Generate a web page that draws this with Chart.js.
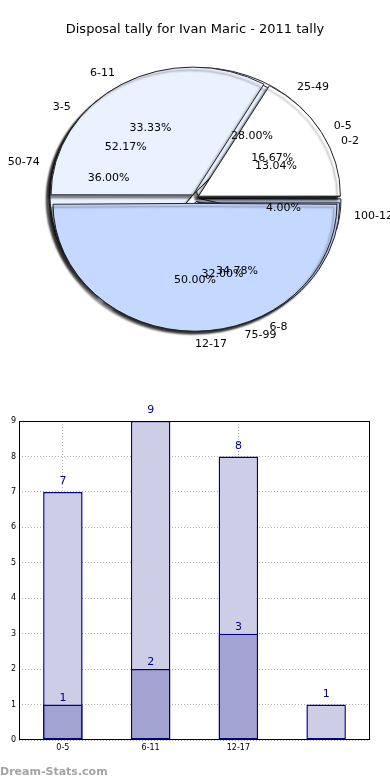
<!DOCTYPE html>
<html>
<head>
<meta charset="utf-8">
<script src="https://cdn.jsdelivr.net/npm/chart.js@4/dist/chart.umd.min.js"></script>
<style>
  body { margin: 0; background: #fff; }
  #pieBox { position: absolute; left: 0; top: 0; width: 390px; height: 390px; }
  #barBox { position: absolute; left: 0; top: 400px; width: 390px; height: 380px; }
</style>
</head>
<body>
<div id="pieBox"><canvas id="pieChart"></canvas></div>
<div id="barBox"><canvas id="barChart"></canvas></div>
<script>
const titleText = 'Disposal tally for Ivan Maric - 2011 tally';

// three pies drawn on top of each other (first one ends up on top)
const pieAgeLabels = ['0-5', '6-11', '12-17'];
const pieAgeValues = [1, 2, 3];
const pieSmallLabels = ['0-2', '3-5', '6-8'];
const pieSmallValues = [3, 12, 8];
const pieBigLabels = ['25-49', '50-74', '75-99', '100-124'];
const pieBigValues = [7, 9, 8, 1];

// bar chart
const barCategories = ['0-5', '6-11', '12-17', ''];
const barTotals = [7, 9, 8, 1];
const barPart = [1, 2, 3, 0];
const yTicks = [0, 1, 2, 3, 4, 5, 6, 7, 8, 9];

const FONT = '"DejaVu Sans", sans-serif';
const R = 142;      // pie radius
const SY = 0.9;     // vertical squash of the pie
const pieColors = ['#ffffff', '#eaf1ff', '#c5d8ff', '#c5d8ff'];

const pieLabelSets = [pieAgeLabels, pieSmallLabels, pieBigLabels];
const pieValueSets = [pieAgeValues, pieSmallValues, pieBigValues];

// chart.js arc offset moves the slice by offset/4
const explode = [
  [16, 16, 24],
  [12, 16, 24],
  [16, 16, 16, 16],
];

const squash = {
  id: 'squash',
  afterDatasetsUpdate(chart) {
    // every dataset is a full pie, not a ring; exploded slices keep their size
    chart.data.datasets.forEach((ds, d) => {
      chart.getDatasetMeta(d).data.forEach(arc => {
        const fix = 1 - Math.sin(Math.min(Math.PI, arc.circumference));
        arc.innerRadius = 0;
        arc.outerRadius = R - (arc.options.offset / 4) * fix;
      });
    });
  },
  beforeDatasetsDraw(chart) {
    const { ctx } = chart;
    const a = chart.getDatasetMeta(0).data[0];
    ctx.save();
    ctx.translate(a.x, a.y);
    ctx.scale(1, -SY);
    ctx.translate(-a.x, -a.y);
  },
  afterDatasetsDraw(chart) {
    chart.ctx.restore();
  },
  beforeDatasetDraw(chart) {
    const { ctx } = chart;
    ctx.save();
    ctx.shadowColor = 'rgba(0,0,0,0.45)';
    ctx.shadowOffsetX = -3;
    ctx.shadowOffsetY = 3;
    ctx.shadowBlur = 2;
  },
  afterDatasetDraw(chart) {
    chart.ctx.restore();
  },
  afterDraw(chart) {
    const { ctx } = chart;
    ctx.save();
    ctx.font = '11px ' + FONT;
    ctx.fillStyle = '#000';
    ctx.textBaseline = 'middle';
    pieValueSets.forEach((vals, d) => {
      const total = vals.reduce((s, v) => s + v, 0);
      chart.getDatasetMeta(d).data.forEach((arc, i) => {
        const mid = (arc.startAngle + arc.endAngle) / 2;
        const shift = arc.options.offset / 4;
        const c = Math.cos(mid), s = Math.sin(mid);
        const rp = 0.6 * R + shift;
        ctx.textAlign = 'center';
        ctx.fillText((vals[i] / total * 100).toFixed(2) + '%', arc.x + rp * c, arc.y - SY * rp * s);
        const rl = 1.1 * R + shift;
        ctx.textAlign = c > -1e-6 ? 'left' : 'right';
        ctx.fillText(pieLabelSets[d][i], arc.x + rl * c, arc.y - SY * rl * s);
      });
    });
    ctx.restore();
  },
};

new Chart(document.getElementById('pieChart'), {
  type: 'pie',
  data: {
    labels: pieBigLabels,
    datasets: pieValueSets.map((vals, d) => ({
      data: vals,
      backgroundColor: pieColors,
      borderColor: '#1a1a1a',
      borderWidth: 1,
      offset: explode[d],
      clip: false,
    })),
  },
  options: {
    responsive: true,
    maintainAspectRatio: false,
    animation: false,
    events: [],
    rotation: 90,
    radius: R,
    layout: { padding: { top: 0, bottom: 31.6 } },
    plugins: {
      legend: { display: false },
      tooltip: { enabled: false },
      title: {
        display: true,
        text: titleText,
        color: '#000',
        font: { family: FONT, size: 13, weight: 'normal' },
        padding: { top: 22, bottom: 0 },
      },
    },
  },
  plugins: [squash],
});

const frame = {
  id: 'frame',
  afterDatasetsDraw(chart) {
    const { ctx, chartArea: { left, top, right, bottom } } = chart;
    ctx.save();
    ctx.strokeStyle = '#000';
    ctx.lineWidth = 1;
    ctx.strokeRect(left + 0.5, top + 0.5, right - left - 1, bottom - top - 1);
    ctx.restore();
  },
};

const barValues = {
  id: 'barValues',
  afterDatasetsDraw(chart) {
    const { ctx } = chart;
    const gaps = [1, 5];
    ctx.save();
    ctx.font = '11px ' + FONT;
    ctx.fillStyle = '#000080';
    ctx.textAlign = 'center';
    ctx.textBaseline = 'bottom';
    chart.data.datasets.forEach((ds, d) => {
      chart.getDatasetMeta(d).data.forEach((bar, i) => {
        if (!ds.data[i]) return;
        ctx.fillText(String(ds.data[i]), bar.x, bar.y - gaps[d]);
      });
    });
    ctx.restore();
  },
  afterDraw(chart) {
    const { ctx } = chart;
    ctx.save();
    ctx.font = 'bold 11px ' + FONT;
    ctx.fillStyle = '#a3a3a3';
    ctx.textAlign = 'left';
    ctx.textBaseline = 'alphabetic';
    ctx.fillText('Dream-Stats.com', 0, 375);
    ctx.restore();
  },
};

new Chart(document.getElementById('barChart'), {
  type: 'bar',
  data: {
    labels: barCategories,
    datasets: [
      {
        data: barPart,
        backgroundColor: '#a3a3d1',
        borderColor: '#000080',
        borderWidth: 1.5,
        borderSkipped: false,
        grouped: false,
        barPercentage: 0.45,
        categoryPercentage: 1,
      },
      {
        data: barTotals,
        backgroundColor: '#cdcde6',
        borderColor: '#000080',
        borderWidth: 1.5,
        borderSkipped: false,
        grouped: false,
        barPercentage: 0.45,
        categoryPercentage: 1,
      },
    ],
  },
  options: {
    responsive: true,
    maintainAspectRatio: false,
    animation: false,
    events: [],
    layout: { padding: { top: 21, right: 20, left: 0, bottom: 0 } },
    plugins: { legend: { display: false }, tooltip: { enabled: false } },
    scales: {
      x: {
        offset: true,
        afterFit(scale) { scale.height = 40; },
        grid: {
          offset: false,
          drawTicks: false,
          color: c => (c.index === 3 ? 'rgba(0,0,0,0)' : '#b0b0b0'),
        },
        border: { display: false, dash: [1, 2] },
        ticks: { color: '#000', font: { family: FONT, size: 8 }, padding: 3 },
      },
      y: {
        min: 0,
        max: 9,
        afterFit(scale) { scale.width = 19; },
        afterBuildTicks(scale) { scale.ticks = yTicks.map(v => ({ value: v })); },
        grid: { drawTicks: false, color: '#b0b0b0' },
        border: { display: false, dash: [1, 2] },
        ticks: { color: '#000', font: { family: FONT, size: 8 }, padding: 3 },
      },
    },
  },
  plugins: [frame, barValues],
});
</script>
</body>
</html>
